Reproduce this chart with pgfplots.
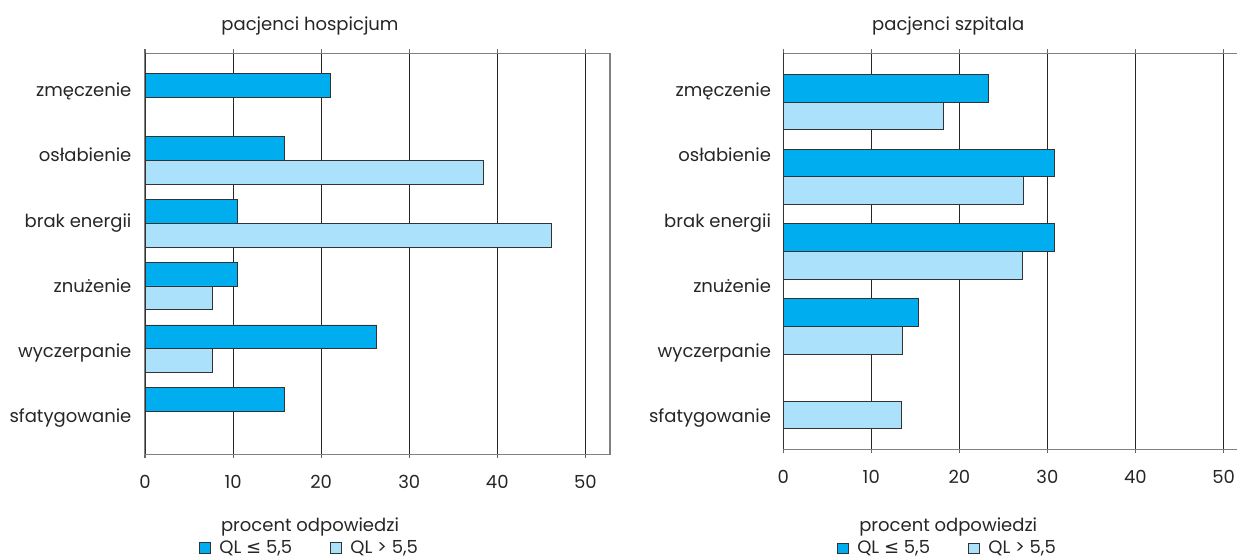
\documentclass[border=0pt]{standalone}
\usepackage{pgfplots}
\pgfplotsset{compat=1.18}
\usepackage{fontspec}
\setmainfont{Poppins}
\newfontfamily\symf{DejaVu Sans}
\definecolor{qlo}{HTML}{00AEEF}
\definecolor{qhi}{HTML}{ABE1FA}
\newcommand{\tfont}{\fontsize{13.5}{16}\selectfont}
\pgfplotsset{
  panel/.style={
    scale only axis, anchor=south west, width=348.75pt,
    xbar, y dir=reverse, xmin=0, xmax=52.8,
    xtick={0,10,20,30,40,50},
    xmajorgrids, grid style={black!85, line width=0.85pt},
    axis line style={black!50, line width=0.8pt},
    tick align=outside, major tick length=3pt,
    xtick style={black!60, line width=0.8pt},
    ytick style={draw=none},
    /pgf/number format/assume math mode=true,
    xticklabel style={anchor=base, inner sep=0pt, yshift=-22.5pt},
    yticklabel style={anchor=base east, inner sep=0pt},
    tick label style={font=\tfont, text=black!85},
    legend columns=2,
    legend image code/.code={\draw[##1, draw=black!80, line width=0.6pt] (0pt,-4pt) rectangle (8pt,4pt);},
    legend style={draw=none, fill=none, inner sep=0pt, outer sep=0pt, font=\tfont, text=black!85,
      nodes={inner sep=0pt},
      /tikz/every odd column/.append style={column sep=6.5pt}},
  },
  lo/.style={fill=qlo, draw=black!80, line width=0.6pt},
  hi/.style={fill=qhi, draw=black!80, line width=0.6pt},
}
\begin{document}
\begin{tikzpicture}
\useasboundingbox (0,0) rectangle (927.75pt,419.25pt);
% left panel
\begin{axis}[panel, at={(108.75pt,78.5pt)}, height=300.75pt,
  ymin=-0.700, ymax=5.677,
  ytick={-0.021,1.013,2.067,3.101,4.135,5.175},
  yticklabels={zmęczenie,osłabienie,brak energii,znużenie,wyczerpanie,sfatygowanie},
  yticklabel style={xshift=-7pt},
  legend style={at={(axis description cs:0.1166,-0.234)}, anchor=west}]
\addplot[lo, bar width=0.38, bar shift=-0.19] coordinates {(21.05,0) (15.79,1) (10.53,2) (10.53,3) (26.32,4) (15.79,5)};
\addlegendentry{\makebox[83.25pt][l]{QL {\symf ≤} 5,5}}
\addplot[hi, bar width=0.38, bar shift=0.19] coordinates {(38.46,1) (46.15,2) (7.69,3) (7.69,4)};
\addlegendentry{QL > 5,5}
\draw[black!80, line width=0.8pt] (rel axis cs:0,0) -- (rel axis cs:0,1);
\end{axis}
% right panel
\begin{axis}[panel, at={(587.4pt,82.27pt)}, height=297pt,
  ymin=-0.652, ymax=4.646,
  ytick={-0.080,0.798,1.676,2.551,3.415,4.290},
  yticklabels={zmęczenie,osłabienie,brak energii,znużenie,wyczerpanie,sfatygowanie},
  yticklabel style={xshift=-6pt},
  legend style={at={(axis description cs:0.116,-0.250)}, anchor=west}]
\addplot[lo, bar width=0.37, bar shift=-0.185] coordinates {(23.3,0) (30.8,1) (30.8,2) (15.4,3)};
\addlegendentry{\makebox[83.25pt][l]{QL {\symf ≤} 5,5}}
\addplot[hi, bar width=0.37, bar shift=0.185] coordinates {(18.2,0) (27.3,1) (27.2,2) (13.5,3) (13.4,4)};
\addlegendentry{QL > 5,5}
\draw[black!80, line width=0.8pt] (rel axis cs:0,0) -- (rel axis cs:0,1);
\end{axis}
\node[font=\tfont, text=black!85, anchor=base] at (232.5pt,396pt) {pacjenci hospicjum};
\node[font=\tfont, text=black!85, anchor=base] at (711.15pt,396pt) {pacjenci szpitala};
\node[font=\tfont, text=black!85, anchor=base] at (232.5pt,20.5pt) {procent odpowiedzi};
\node[font=\tfont, text=black!85, anchor=base] at (711.15pt,20.5pt) {procent odpowiedzi};
\end{tikzpicture}
\end{document}
